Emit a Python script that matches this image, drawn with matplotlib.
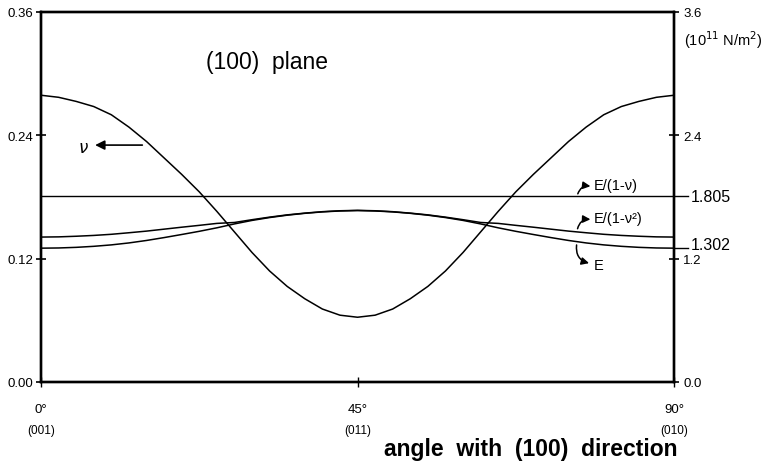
import matplotlib
matplotlib.use("Agg")
import matplotlib.pyplot as plt

plt.rcParams["font.family"] = ["Liberation Sans", "DejaVu Sans"]

# angle in the (100) plane, degrees from (001)
angle = [0, 2.5, 5, 7.5, 10, 12.5, 15, 17.5, 20, 22.5, 25, 27.5, 30, 32.5, 35, 37.5, 40, 42.5,
         45, 47.5, 50, 52.5, 55, 57.5, 60, 62.5, 65, 67.5, 70, 72.5, 75, 77.5, 80, 82.5, 85, 87.5, 90]

# Poisson ratio (left axis)
nu = [0.279, 0.277, 0.273, 0.268, 0.260, 0.248, 0.234, 0.218, 0.202, 0.185, 0.166, 0.146,
      0.126, 0.108, 0.093, 0.081, 0.071, 0.065, 0.063,
      0.065, 0.071, 0.081, 0.093, 0.108, 0.126, 0.146, 0.166, 0.185, 0.202, 0.218, 0.234,
      0.248, 0.260, 0.268, 0.273, 0.277, 0.279]

# moduli in 10^11 N/m^2 (right axis)
E = [1.302, 1.304, 1.310, 1.320, 1.334, 1.353, 1.377, 1.405, 1.435, 1.466, 1.500, 1.538,
     1.572, 1.600, 1.623, 1.641, 1.655, 1.664, 1.668,
     1.664, 1.655, 1.641, 1.623, 1.600, 1.572, 1.538, 1.500, 1.466, 1.435, 1.405, 1.377,
     1.353, 1.334, 1.320, 1.310, 1.304, 1.302]
E_plane = [1.410, 1.412, 1.418, 1.426, 1.437, 1.452, 1.468, 1.487, 1.506, 1.524, 1.543, 1.552,
           1.579, 1.604, 1.626, 1.643, 1.657, 1.666, 1.670,
           1.666, 1.657, 1.643, 1.626, 1.604, 1.579, 1.552, 1.543, 1.524, 1.506, 1.487, 1.468,
           1.452, 1.437, 1.426, 1.418, 1.412, 1.410]
E_biax = 1.805

left_ticks = [0.0, 0.12, 0.24, 0.36]
left_labels = ["0.00", "0.12", "0.24", "0.36"]
right_ticks = [0.0, 1.2, 2.4, 3.6]
right_labels = ["0.0", "1.2", "2.4", "3.6"]
x_ticks = [0, 45, 90]
x_labels = ["0°", "45°", "90°"]
x_dirs = ["(001)", "(011)", "(010)"]

fig = plt.figure(figsize=(7.65, 4.64), dpi=100)
ax = fig.add_axes([0.0536, 0.1746, 0.8275, 0.7974])
ax2 = ax.twinx()

ax.plot(angle, nu, color="black", lw=1.1)
ax.set_xlim(0, 90)
ax.set_ylim(0, 0.36)
ax.set_yticks(left_ticks)
ax.set_yticklabels(left_labels, fontsize=9.5)
ax.set_xticks(x_ticks)
ax.set_xticklabels([])
ax.tick_params(axis="y", direction="inout", length=7, width=1.2, pad=2)
ax.tick_params(axis="x", direction="inout", length=7, width=1.0)
for t, lab, d in zip(x_ticks, x_labels, x_dirs):
    ax.text(t, -0.073, lab, fontsize=9.5, ha="center", va="center",
            transform=ax.get_xaxis_transform())
    ax.text(t, -0.131, d, fontsize=8.5, ha="center", va="center",
            transform=ax.get_xaxis_transform())

ax2.plot(angle, E, color="black", lw=1.1)
ax2.plot(angle, E_plane, color="black", lw=1.1)
ax2.plot([0, 92], [E_biax, E_biax], color="black", lw=1.0, clip_on=False)
ax2.plot([90, 92], [E[-1], E[-1]], color="black", lw=1.0, clip_on=False)
ax2.set_ylim(0, 3.6)
ax2.set_yticks(right_ticks)
ax2.set_yticklabels(right_labels, fontsize=9.5)
ax2.tick_params(axis="y", direction="inout", length=7, width=1.2, pad=3)

for a in (ax, ax2):
    for s in a.spines.values():
        s.set_linewidth(1.7)

ax2.text(92.4, E_biax, f"{E_biax:.3f}", fontsize=11.5, va="center", ha="left")
ax2.text(92.4, E[-1] + 0.04, f"{E[-1]:.3f}", fontsize=11.5, va="center", ha="left")
ax2.text(91.4, 3.34, "(10$^{11}$ N/m$^2$)", fontsize=10.5, va="center", ha="left")

# curve labels
ax.text(32.1, 0.312, "(100)  plane", fontsize=16.5, ha="center", va="center")
ax.text(6.0, 0.228, "$\\nu$", fontsize=12, ha="center", va="center")
ax.annotate("", xy=(7.3, 0.2305), xytext=(14.8, 0.2305),
            arrowprops=dict(arrowstyle="-|>", color="black", lw=1.2, mutation_scale=14))

arrow_kw = dict(arrowstyle="-|>", color="black", lw=1.1, mutation_scale=11)
ax2.text(78.6, 1.917, "E/(1-ν)", fontsize=10.5, ha="left", va="center")
ax2.annotate("", xy=(78.5, 1.90), xytext=(76.2, E_biax),
             arrowprops=dict(connectionstyle="arc3,rad=-0.5", **arrow_kw))
ax2.text(78.6, 1.596, "E/(1-ν²)", fontsize=10.5, ha="left", va="center")
ax2.annotate("", xy=(78.5, 1.58), xytext=(76.2, 1.465),
             arrowprops=dict(connectionstyle="arc3,rad=-0.5", **arrow_kw))
ax2.text(78.6, 1.135, "E", fontsize=10.5, ha="left", va="center")
ax2.annotate("", xy=(78.3, 1.15), xytext=(76.2, 1.36),
             arrowprops=dict(connectionstyle="arc3,rad=0.5", **arrow_kw))

fig.text(0.694, 0.031, "angle  with  (100)  direction", fontsize=16.5, fontweight="bold",
         ha="center", va="center")

fig.savefig("out.png", dpi=100)
